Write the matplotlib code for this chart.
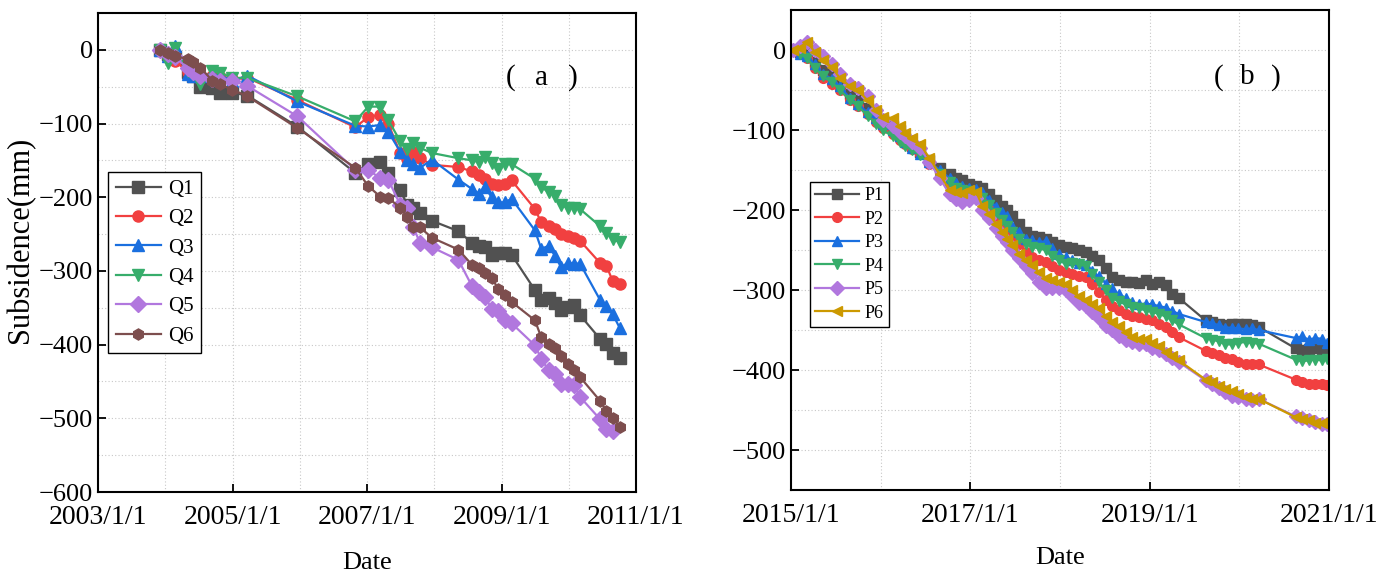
import matplotlib
matplotlib.use('Agg')
import matplotlib.pyplot as plt
import matplotlib.dates as mdates
from matplotlib.ticker import MultipleLocator, FuncFormatter
import numpy as np
import pandas as pd


SERIF = ['Liberation Serif', 'Noto Sans CJK SC']
TICK_FONT_SIZE = 19
LABEL_FONT_SIZE = 19

# Origin-style palette
COLORS = ['#515151', '#F14040', '#1A6FDF', '#37AD6B', '#B177DE']
COLOR_Q6 = '#7D4E4E'
COLOR_P6 = '#CC9900'

# ---- 2003-2010 campaign (Q points) ----
dates_q = [
    '2003-12-05', '2004-01-18', '2004-02-25', '2004-05-01', '2004-05-28',
    '2004-07-10', '2004-09-13', '2004-10-27', '2004-12-31', '2005-03-22',
    '2005-12-18', '2006-10-29', '2007-01-08', '2007-03-13', '2007-04-26',
    '2007-06-30', '2007-08-07', '2007-09-08', '2007-10-16', '2007-12-20',
    '2008-05-11', '2008-07-25', '2008-08-30', '2008-10-01', '2008-11-08',
    '2008-12-14', '2009-01-19', '2009-02-24', '2009-07-01', '2009-08-04',
    '2009-09-13', '2009-10-19', '2009-11-20', '2009-12-26', '2010-01-30',
    '2010-03-03', '2010-06-19', '2010-07-24', '2010-08-28', '2010-10-06',
]
q1 = [0, -5, -10, -30, -35, -50, -52, -58, -58, -62,
      -104, -167, -155, -152, -167, -190, -210, -215, -221, -232,
      -246, -262, -266, -268, -278, -276, -276, -278, -326, -340,
      -337, -344, -353, -349, -346, -360, -392, -399, -412, -418]
q2 = [0, -10, -15, -30, -33, -38, -35, -37, -40, -38,
      -68, -105, -91, -88, -100, -140, -148, -138, -147, -156,
      -159, -165, -170, -175, -182, -184, -182, -177, -216, -234,
      -239, -243, -250, -252, -255, -259, -289, -293, -314, -318]
q3 = [0, -8, 5, -33, -35, -35, -33, -35, -42, -35,
      -70, -103, -104, -102, -111, -138, -149, -155, -160, -149,
      -176, -189, -195, -186, -200, -207, -207, -202, -245, -270,
      -266, -280, -295, -289, -290, -290, -339, -348, -359, -378]
q4 = [0, -18, 3, -29, -30, -47, -29, -31, -38, -38,
      -63, -97, -77, -77, -95, -124, -135, -126, -133, -140,
      -147, -150, -152, -145, -153, -161, -155, -155, -175, -186,
      -193, -198, -211, -214, -214, -216, -239, -248, -257, -261]
q5 = [0, -5, -10, -25, -30, -35, -40, -42, -42, -49,
      -90, -163, -163, -174, -176, -210, -214, -240, -262, -268,
      -285, -321, -328, -335, -351, -355, -367, -371, -401, -419,
      -435, -440, -453, -453, -455, -471, -501, -515, -517, np.nan]
q6 = [0, -4, -8, -13, -17, -24, -42, -47, -54, -63,
      -106, -160, -185, -199, -201, -214, -227, -241, -241, -255,
      -271, -292, -296, -303, -310, -324, -333, -342, -367, -390,
      -399, -405, -415, -426, -435, -444, -476, -490, -499, -512]

# ---- 2015-2020 campaign (P points) ----
dates_p = [
    '2015-01-09', '2015-02-06', '2015-03-06', '2015-04-07', '2015-05-10',
    '2015-06-16', '2015-07-18', '2015-08-28', '2015-09-30', '2015-11-09',
    '2015-12-12', '2016-01-09', '2016-02-19', '2016-03-18', '2016-04-08',
    '2016-05-06', '2016-06-08', '2016-07-18', '2016-08-28', '2016-10-08',
    '2016-11-05', '2016-11-29', '2016-12-28', '2017-01-25', '2017-02-19',
    '2017-03-19', '2017-04-16', '2017-05-11', '2017-05-31', '2017-06-21',
    '2017-07-19', '2017-08-16', '2017-09-10', '2017-10-08', '2017-11-05',
    '2017-11-29', '2017-12-28', '2018-01-25', '2018-02-19', '2018-03-19',
    '2018-04-16', '2018-05-11', '2018-06-08', '2018-07-07', '2018-07-31',
    '2018-08-28', '2018-09-26', '2018-10-20', '2018-11-18', '2018-12-16',
    '2019-01-10', '2019-02-08', '2019-03-08', '2019-04-02', '2019-04-30',
    '2019-08-17', '2019-09-11', '2019-10-09', '2019-11-06', '2019-12-01',
    '2019-12-29', '2020-01-27', '2020-02-21', '2020-03-20', '2020-08-18',
    '2020-09-12', '2020-10-10', '2020-11-07', '2020-12-02', '2020-12-22',
]
p1 = [0, -3, -2, -15, -25, -30, -42, -55, -62, -72,
      -80, -88, -95, -100, -110, -120, -128, -138, -147, -155,
      -160, -163, -168, -170, -172, -180, -188, -195, -200, -207,
      -218, -228, -232, -234, -236, -240, -244, -246, -248, -250,
      -253, -257, -262, -272, -284, -288, -290, -290, -291, -288,
      -292, -290, -294, -305, -310, -338, -340, -342, -344, -342,
      -343, -342, -344, -346, -373, -375, -374, -373, -374, -376]
p2 = [0, -5, -10, -22, -35, -42, -50, -62, -70, -80,
      -90, -98, -105, -112, -118, -124, -130, -142, -155, -167,
      -173, -177, -178, -180, -188, -198, -207, -215, -224, -232,
      -242, -252, -259, -262, -265, -270, -275, -278, -280, -282,
      -284, -292, -302, -312, -320, -325, -330, -332, -334, -336,
      -338, -342, -346, -353, -359, -376, -379, -381, -385, -386,
      -390, -392, -392, -393, -412, -415, -417, -418, -418, -419]
p3 = [0, -5, -8, -18, -30, -36, -45, -60, -68, -78,
      -85, -92, -100, -108, -115, -122, -130, -140, -150, -160,
      -166, -170, -172, -174, -178, -188, -196, -202, -208, -220,
      -228, -236, -238, -240, -239, -248, -255, -259, -262, -266,
      -269, -276, -283, -292, -298, -305, -310, -315, -318, -317,
      -318, -320, -322, -326, -330, -340, -341, -344, -347, -347,
      -348, -349, -348, -350, -360, -358, -362, -360, -361, -366]
p4 = [0, -5, -10, -22, -33, -40, -50, -62, -70, -82,
      -92, -100, -108, -115, -120, -125, -131, -142, -155, -165,
      -172, -175, -176, -180, -185, -194, -204, -212, -220, -227,
      -236, -243, -246, -248, -250, -258, -263, -267, -266, -268,
      -270, -280, -290, -300, -310, -314, -318, -321, -323, -325,
      -327, -330, -333, -338, -343, -360, -362, -364, -368, -368,
      -366, -365, -366, -367, -387, -389, -388, -387, -388, -386]
p5 = [0, 5, 10, 0, -8, -18, -30, -42, -48, -58,
      -75, -88, -95, -102, -108, -115, -122, -140, -160, -180,
      -186, -190, -188, -185, -200, -210, -222, -232, -240, -250,
      -260, -270, -279, -290, -297, -298, -297, -300, -308, -316,
      -320, -328, -335, -345, -350, -358, -362, -365, -367, -367,
      -372, -375, -380, -385, -390, -413, -417, -423, -428, -432,
      -434, -436, -437, -436, -458, -460, -463, -465, -467, -468]
p6 = [0, 3, 10, -2, -13, -21, -35, -45, -50, -63,
      -75, -84, -85, -95, -104, -110, -117, -135, -155, -175,
      -178, -179, -175, -178, -195, -205, -218, -228, -236, -244,
      -255, -263, -269, -278, -285, -288, -290, -293, -300, -308,
      -313, -318, -323, -333, -340, -345, -352, -359, -361, -361,
      -366, -370, -378, -383, -388, -412, -415, -420, -424, -426,
      -430, -434, -436, -436, -459, -461, -463, -466, -466, -468]

labels_q = ['Q1', 'Q2', 'Q3', 'Q4', 'Q5', 'Q6']
labels_p = ['P1', 'P2', 'P3', 'P4', 'P5', 'P6']
markers_q = ['s', 'o', '^', 'v', 'D', 'h']
markers_p = ['s', 'o', '^', 'v', 'D', '<']


def date_label(x, pos=None):
    d = mdates.num2date(x)
    return f'{d.year}/{d.month}/{d.day}'


def style_axes(ax, first_year, last_year, ylim, xlabelpad):
    ax.set_xlim(pd.Timestamp(f'{first_year}-01-01'),
                pd.Timestamp(f'{last_year}-01-01'))
    ax.set_ylim(*ylim)
    ax.set_xticks(pd.to_datetime(
        [f'{y}-01-01' for y in range(first_year, last_year + 1, 2)]))
    ax.set_xticks(pd.to_datetime(
        [f'{y}-01-01' for y in range(first_year, last_year + 1)]),
        minor=True)
    ax.xaxis.set_major_formatter(FuncFormatter(date_label))
    ax.yaxis.set_major_locator(MultipleLocator(100))
    ax.yaxis.set_minor_locator(MultipleLocator(50))
    ax.grid(True, which='both', linestyle=(0, (1, 2)),
            color='#c8c8c8', linewidth=0.8)
    ax.set_axisbelow(True)
    ax.tick_params(which='major', direction='in', length=6, width=1.3,
                   labelsize=TICK_FONT_SIZE)
    ax.tick_params(axis='x', which='major', pad=9, labelsize=20)
    ax.tick_params(which='minor', length=0)
    for lbl in ax.get_xticklabels() + ax.get_yticklabels():
        lbl.set_family(SERIF)
    for sp in ax.spines.values():
        sp.set_linewidth(1.5)
    ax.set_xlabel('Date', fontsize=LABEL_FONT_SIZE, family=SERIF,
                  labelpad=xlabelpad)


def panel_tag(ax, x, y, letter, gap):
    # wide-set parentheses around the panel letter
    kw = dict(transform=ax.transAxes, fontsize=21, family=SERIF,
              va='center', ha='center')
    ax.text(x - gap, y, '(', **kw)
    ax.text(x, y, letter, **kw)
    ax.text(x + gap, y, ')', **kw)


def main():
    plt.rcParams['font.family'] = SERIF
    plt.rcParams['axes.unicode_minus'] = True
    fig = plt.figure(figsize=(13.89, 5.76), dpi=100)
    ax_a = fig.add_axes([0.0706, 0.1458, 0.3873, 0.8316])
    ax_b = fig.add_axes([0.5695, 0.1493, 0.3873, 0.8333])

    tq = pd.to_datetime(dates_q)
    colors_q = COLORS + [COLOR_Q6]
    for vals, lab, mk, col in zip([q1, q2, q3, q4, q5, q6], labels_q,
                                  markers_q, colors_q):
        ax_a.plot(tq, vals, '-', marker=mk, color=col, label=lab,
                  linewidth=1.6, markersize=8)

    tp = pd.to_datetime(dates_p)
    colors_p = COLORS + [COLOR_P6]
    for vals, lab, mk, col in zip([p1, p2, p3, p4, p5, p6], labels_p,
                                  markers_p, colors_p):
        ax_b.plot(tp, vals, '-', marker=mk, color=col, label=lab,
                  linewidth=1.6, markersize=7)

    style_axes(ax_a, 2003, 2011, (-600, 50), 16)
    style_axes(ax_b, 2015, 2021, (-550, 50), 14)
    ax_a.set_ylabel('Subsidence(mm)', fontsize=22, family=SERIF)
    ax_a.yaxis.set_label_coords(-0.116, 0.526)

    leg_a = ax_a.legend(loc='upper left', bbox_to_anchor=(0.019, 0.668),
                        prop={'family': SERIF, 'size': 15},
                        fancybox=False, edgecolor='black', framealpha=1,
                        handlelength=2.2, labelspacing=0.47,
                        borderpad=0.35, handletextpad=0.3,
                        borderaxespad=0)
    leg_a.get_frame().set_linewidth(1.0)
    leg_b = ax_b.legend(loc='upper left', bbox_to_anchor=(0.035, 0.642),
                        prop={'family': SERIF, 'size': 13},
                        fancybox=False, edgecolor='black', framealpha=1,
                        handlelength=2.4, labelspacing=0.36,
                        borderpad=0.3, handletextpad=0.3,
                        borderaxespad=0)
    leg_b.get_frame().set_linewidth(1.0)

    panel_tag(ax_a, 0.825, 0.865, 'a', 0.058)
    panel_tag(ax_b, 0.848, 0.86, 'b', 0.053)

    fig.savefig('out.png', dpi=100)
    plt.close(fig)


if __name__ == '__main__':
    main()
